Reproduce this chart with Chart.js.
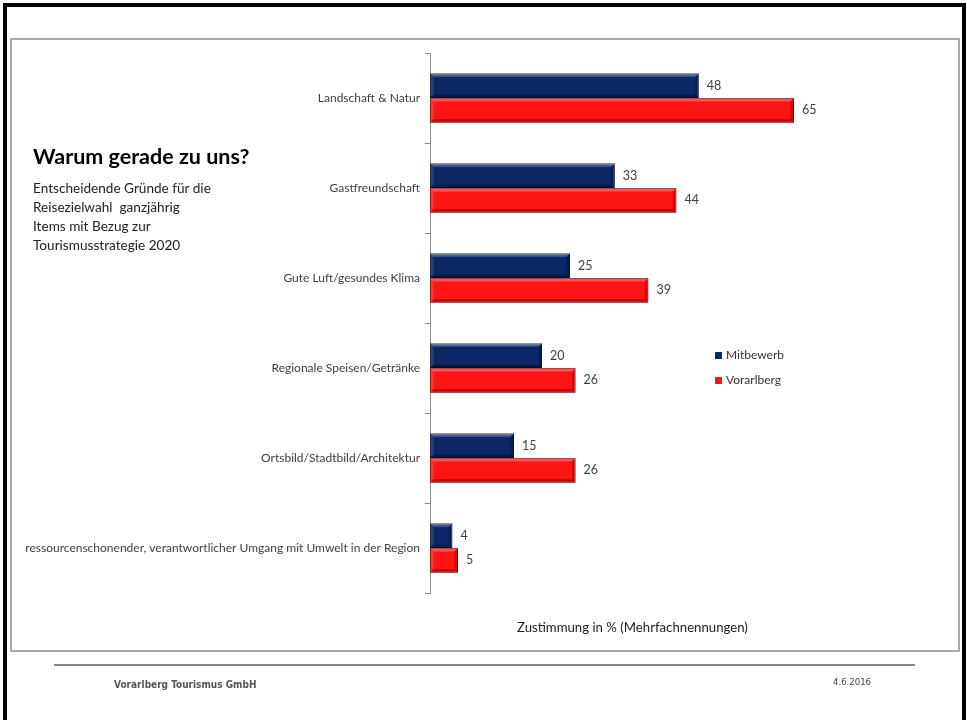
<!DOCTYPE html>
<html><head><meta charset="utf-8">
<script src="https://cdn.jsdelivr.net/npm/chart.js@4/dist/chart.umd.min.js"></script>
<style>
html,body{margin:0;padding:0;background:#fff;}
body{width:967px;height:720px;position:relative;overflow:hidden;font-family:Lato,"Open Sans",sans-serif;}
#frame{position:absolute;left:3px;top:3px;width:963px;height:740px;border:4px solid #000;box-sizing:border-box;}
#inner{position:absolute;left:10px;top:38px;width:950px;height:614px;border:2px solid #a8a8a8;box-sizing:border-box;}
#c{position:absolute;left:0;top:0;}
.t{position:absolute;white-space:nowrap;color:#1a1a1a;}
#title{left:33px;top:143px;font-size:21.5px;font-weight:bold;color:#000;}
#sub{left:33px;top:179px;font-size:13.6px;line-height:19px;color:#222;}
#axt{left:517px;top:619px;font-size:13.2px;color:#222;}
#legend{position:absolute;left:715px;top:346px;font-size:12px;color:#333;}
#legend div{height:25px;line-height:18px;}
#legend span.sw{display:inline-block;width:7px;height:7px;margin-right:4px;vertical-align:0px;}
#fline{position:absolute;left:54px;top:664px;width:861px;height:2px;background:#858585;}
#f1{left:114px;top:679px;font-family:"DejaVu Sans Condensed","DejaVu Sans",sans-serif;font-stretch:condensed;font-weight:bold;font-size:10px;color:#555;}
#f2{left:833px;top:676px;font-family:"DejaVu Sans Condensed","DejaVu Sans",sans-serif;font-stretch:condensed;font-size:9.5px;color:#444;}
</style></head>
<body>
<div id="frame"></div>
<div id="inner"></div>
<canvas id="c" width="967" height="720"></canvas>
<div class="t" id="title">Warum gerade zu uns?</div>
<div class="t" id="sub">Entscheidende Gründe für die<br>Reisezielwahl&nbsp; ganzjährig<br>Items mit Bezug zur<br>Tourismusstrategie 2020</div>
<div class="t" id="axt">Zustimmung in % (Mehrfachnennungen)</div>
<div id="legend"></div>
<div id="fline"></div>
<div class="t" id="f1">Vorarlberg Tourismus GmbH</div>
<div class="t" id="f2">4.6.2016</div>
<script>
const categories = [
  'Landschaft & Natur',
  'Gastfreundschaft',
  'Gute Luft/gesundes Klima',
  'Regionale Speisen/Getränke',
  'Ortsbild/Stadtbild/Architektur',
  'ressourcenschonender, verantwortlicher Umgang mit Umwelt in der Region'
];
const seriesNames = ['Mitbewerb', 'Vorarlberg'];
const mitbewerb = [48, 33, 25, 20, 15, 4];
const vorarlberg = [65, 44, 39, 26, 26, 5];

const fills = ['#0b2765', '#ff1414'];
const edges = ['#051433', '#a00000'];

const legendEl = document.getElementById('legend');
seriesNames.forEach((n, i) => {
  const d = document.createElement('div');
  d.innerHTML = '<span class="sw" style="background:' + fills[i] + ';border:0"></span>' + n;
  legendEl.appendChild(d);
});

const bevelPlugin = {
  id: 'bevel',
  afterDatasetsDraw(chart) {
    const ctx = chart.ctx;
    ctx.save();
    chart.data.datasets.forEach((ds, di) => {
      const meta = chart.getDatasetMeta(di);
      meta.data.forEach((el, i) => {
        const p = el.getProps(['x', 'y', 'base', 'height'], true);
        const l = Math.min(p.x, p.base), r = Math.max(p.x, p.base);
        const t = p.y - p.height / 2, b = p.y + p.height / 2;
        const w = Math.min(3.5, (r - l) / 2);
        const poly = (pts, col) => {
          ctx.beginPath();
          ctx.moveTo(pts[0][0], pts[0][1]);
          for (let k = 1; k < pts.length; k++) ctx.lineTo(pts[k][0], pts[k][1]);
          ctx.closePath();
          ctx.fillStyle = col;
          ctx.fill();
        };
        poly([[l, t], [r, t], [r - w, t + w], [l + w, t + w]], 'rgba(255,255,255,0.25)');
        poly([[l, b], [r, b], [r - w, b - w], [l + w, b - w]], 'rgba(0,0,0,0.32)');
        poly([[r, t], [r, b], [r - w, b - w], [r - w, t + w]], 'rgba(0,0,0,0.24)');
        poly([[l, t], [l, b], [l + w, b - w], [l + w, t + w]], 'rgba(255,255,255,0.12)');
        ctx.font = '12.5px Lato, "Open Sans", sans-serif';
        ctx.fillStyle = '#404040';
        ctx.textAlign = 'left';
        ctx.textBaseline = 'middle';
        ctx.fillText(String(ds.data[i]), r + 8, p.y);
      });
    });
    ctx.restore();
  }
};

new Chart(document.getElementById('c'), {
  type: 'bar',
  data: {
    labels: categories,
    datasets: [
      { label: seriesNames[0], data: mitbewerb, backgroundColor: fills[0], borderColor: edges[0], borderWidth: 1, borderSkipped: false },
      { label: seriesNames[1], data: vorarlberg, backgroundColor: fills[1], borderColor: edges[1], borderWidth: 1, borderSkipped: false }
    ]
  },
  options: {
    indexAxis: 'y',
    responsive: false,
    animation: false,
    devicePixelRatio: 1,
    categoryPercentage: 0.55,
    barPercentage: 1.0,
    layout: { padding: { left: 11, top: 53, right: 89, bottom: 127 } },
    scales: {
      x: { display: false, min: 0, max: 80 },
      y: {
        afterFit(s) { s.width = 419; },
        grid: { offset: true, drawOnChartArea: false, drawTicks: true, tickLength: 5, color: '#8c8c8c' },
        border: { display: true, color: '#8c8c8c' },
        ticks: { font: { family: 'Lato', size: 12 }, color: '#404040', padding: 5, autoSkip: false }
      }
    },
    plugins: { legend: { display: false }, tooltip: { enabled: false } }
  },
  plugins: [bevelPlugin]
});
</script>
</body></html>
